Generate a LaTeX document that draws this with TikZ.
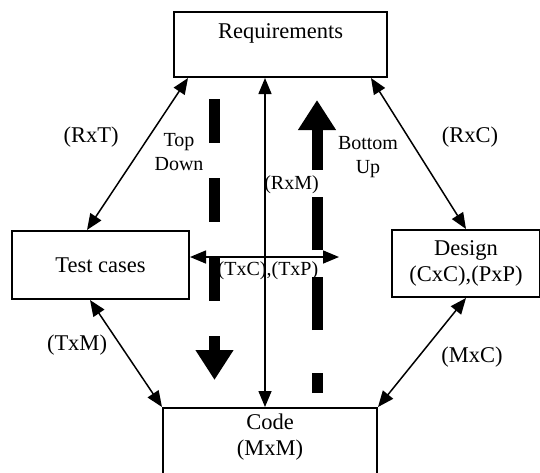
\documentclass[tikz,border=0pt]{standalone}
\usepackage{fontspec}
\setmainfont{Liberation Serif}
\usetikzlibrary{arrows.meta,positioning}
\tikzstyle{block} = [rectangle, draw=black, line width=1pt, text centered, inner sep=0pt]
\tikzstyle{arrow} = [line width=0.75pt, {Triangle[length=8pt,width=6.5pt]}-{Triangle[length=8pt,width=6.5pt]}]
\tikzstyle{flow} = [line width=5.5pt, -{Triangle[length=15pt,width=18pt]}]
\tikzstyle{tag} = [font=\fontsize{10}{11.75}\selectfont, align=center]

\begin{document}
\begin{tikzpicture}[x=0.5pt, y=-0.5pt, font=\fontsize{11.25}{13}\selectfont]
	\useasboundingbox (0,0) rectangle (540,472);
	\node (req) [block, minimum width=106.5pt, minimum height=32.5pt] at (280.5,44.5) {};
	\node (reqtext) [below=3pt of req.north] {Requirements};
	\node (test) [block, minimum width=88.5pt, minimum height=34pt] at (100.5,265) {Test cases};
	\node (design) [block, minimum width=74pt, minimum height=33.5pt, align=center] at (466,263.5) {Design\\(CxC),(PxP)};
	\node (code) [block, minimum width=107pt, minimum height=36pt, anchor=north] at (270,407) {};
	\node (codetext) [below=0pt of code.north, align=center] {Code\\(MxM)};
	%lines
	\coordinate (txcend) at (339,257);
	\draw [arrow] ([xshift=7.5pt]req.south west) -- ([xshift=-6.75pt]test.north);
	\draw [arrow] ([xshift=-8.5pt]req.south east) -- (design.north);
	\draw [arrow] ([xshift=-7.75pt]req.south) -- ([xshift=-2.5pt]code.north);
	\draw [arrow] ([yshift=4pt]test.east) -- (txcend);
	\draw [arrow] ([xshift=-5.25pt]test.south) -- (code.north west);
	\draw [arrow] (design.south) -- (code.north east);
	%labels
	\node (rxt) at (91,137) {(RxT)};
	\node (rxc) at (470,137) {(RxC)};
	\node (rxm) [tag] at (291.5,185) {(RxM)};
	\node (txc) [tag] at (268,271) {(TxC),(TxP)};
	\node (txm) at (77,345) {(TxM)};
	\node (mxc) at (472,357) {(MxC)};
	\node (topdown) [tag] at (179,152) {Top\\Down};
	\node (bottomup) [tag] at (368,157) {Bottom\\Up};
	%big arrows
	\coordinate (tdtop) at (214.5,99);
	\coordinate (tdbot) at (214.5,380);
	\coordinate (bubot) at (317,393);
	\coordinate (butop) at (317,100);
	\draw [flow, dash pattern=on 22pt off 17.5pt] (tdtop) -- (tdbot);
	\draw [flow, dash pattern=on 10pt off 21.5pt on 26.5pt off 13.5pt on 26.5pt off 13.5pt on 40pt off 10pt] (bubot) -- (butop);
\end{tikzpicture}
\end{document}
